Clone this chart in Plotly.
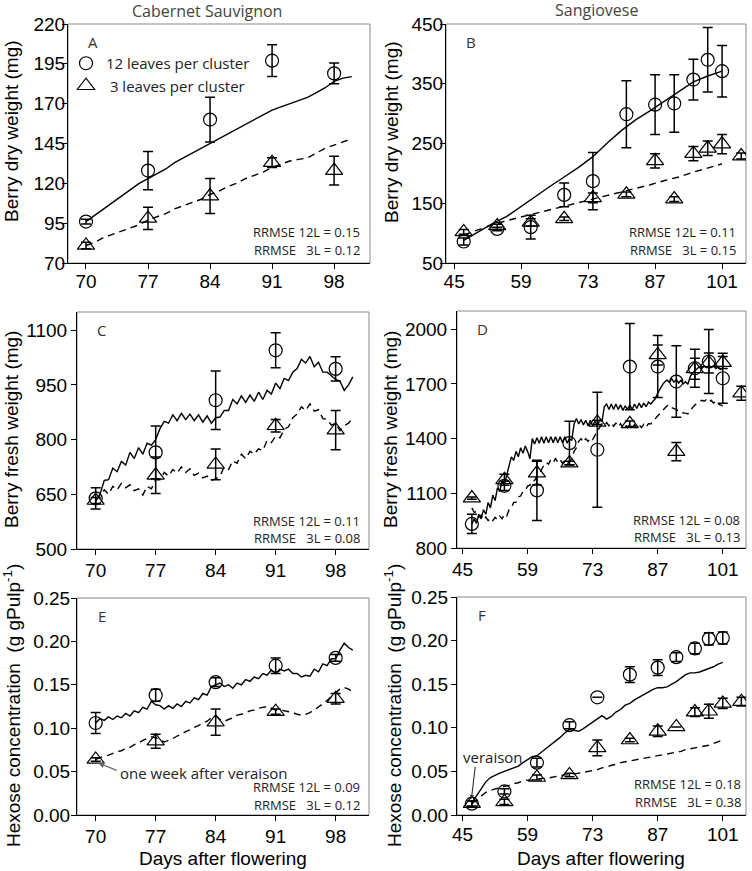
import plotly.graph_objects as go

W, H = 752, 871

# ---------------- data ----------------
cs_days = [70, 77, 84, 91, 98]
sg_days_12 = [47, 54, 61, 68, 74, 81, 87, 91, 95, 98, 101]
sg_days_3 = [47, 54, 61, 68, 74, 81, 87, 91, 95, 98, 101, 105]

# Panel A - Cabernet Sauvignon berry dry weight (mg)
A_obs_12 = [96, 128, 160, 197, 189]
A_err_12 = [1.5, 12, 14, 10, 6.5]
A_obs_3 = [81, 98, 112, 133, 128]
A_err_3 = [2, 7, 11, 3, 9]
A_sim_days = list(range(70, 101))
A_sim_12 = [96, 100, 104, 108, 112, 116, 120, 123, 126, 129, 133, 136, 139, 142, 145, 148,
            151, 154, 157, 160, 163, 166, 168, 170, 172, 174, 177, 180, 184, 186, 187]
A_sim_3 = [81, 83, 86, 88, 90, 92, 94, 97, 99, 101, 104, 106, 108, 110, 113, 115,
           118, 120, 123, 125, 127, 130, 132, 134, 135, 136, 139, 142, 144, 146, 148]

# Panel B - Sangiovese berry dry weight (mg)
B_obs_12 = [86, 107, 110, 164, 187, 299, 315, 317, 357, 390, 371]
B_err_12 = [6, 3, 20, 20, 48, 56, 50, 48, 34, 54, 43]
B_obs_3 = [102, 112, 118, 124, 159, 165, 221, 157, 233, 242, 249, 229]
B_err_3 = [4, 3, 6, 3, 8, 4, 12, 4, 12, 12, 16, 5]
B_sim_days = [47, 50, 53, 56, 59, 62, 65, 68, 71, 74, 77, 80, 83, 86, 89, 92, 95, 98, 101]
B_sim_12 = [88, 102, 116, 128, 145, 162, 178, 194, 210, 228, 251, 272, 290, 305, 321, 337, 353, 363, 371]
B_sim_3 = [97, 106, 114, 121, 127, 132, 139, 145, 150, 156, 163, 168, 174, 181, 188, 194, 202, 209, 216]

# Panel C - Cabernet Sauvignon berry fresh weight (mg), simulated every half day 70..100
C_obs_12 = [639, 765, 908, 1045, 994]
C_err_12 = [29, 72, 80, 48, 33]
C_obs_3 = [633, 702, 732, 838, 826]
C_err_3 = [8, 50, 42, 17, 54]
C_sim_12 = [632, 650, 688, 690, 722, 712, 740, 730, 765, 748,
            778, 760, 790, 785, 800, 830, 850, 845, 868, 852,
            872, 855, 870, 852, 868, 848, 865, 845, 860, 862,
            880, 880, 910, 898, 920, 902, 922, 905, 930, 910,
            935, 925, 955, 940, 968, 962, 985, 995, 1020, 1010,
            1028, 1000, 1012, 985, 985, 975, 965, 960, 935, 950,
            972]
C_sim_3 = [632, 648, 662, 650, 672, 662, 680, 668, 676, 660,
           665, 648, 672, 665, 690, 690, 710, 700, 718, 708,
           725, 710, 720, 702, 708, 695, 700, 688, 692, 700,
           725, 718, 742, 735, 760, 748, 768, 760, 775, 770,
           798, 792, 810, 805, 828, 835, 860, 870, 890, 880,
           898, 878, 882, 858, 855, 840, 845, 825, 838, 845,
           860]

# Panel D - Sangiovese berry fresh weight (mg), simulated every half day 47..101
D_obs_12 = [932, 1141, 1116, 1375, 1339, 1795, 1795, 1713, 1786, 1823, 1731]
D_err_12 = [53, 25, 165, 120, 315, 237, 170, 196, 104, 176, 137]
D_obs_3 = [1074, 1174, 1211, 1266, 1489, 1481, 1859, 1329, 1783, 1815, 1817, 1649]
D_err_3 = [6, 30, 65, 10, 12, 15, 55, 50, 58, 55, 33, 38]
D_sim_12 = [930, 960, 935, 985, 960, 1010, 985, 1050, 1020, 1090,
            1060, 1130, 1110, 1170, 1150, 1200, 1250, 1300, 1280, 1330,
            1300, 1350, 1320, 1360, 1330, 1290, 1400, 1370, 1405, 1375,
            1410, 1375, 1410, 1378, 1410, 1378, 1410, 1378, 1410, 1378,
            1410, 1375, 1400, 1390, 1480, 1510, 1480, 1505, 1475, 1500,
            1470, 1500, 1470, 1495, 1470, 1500, 1495, 1575, 1590, 1560,
            1590, 1560, 1590, 1560, 1585, 1555, 1580, 1560, 1585, 1560,
            1590, 1565, 1595, 1570, 1595, 1575, 1600, 1590, 1605, 1620,
            1650, 1675, 1695, 1710, 1722, 1708, 1728, 1710, 1725, 1705,
            1720, 1700, 1712, 1698, 1740, 1760, 1770, 1785, 1795, 1785,
            1800, 1790, 1800, 1790, 1800, 1785, 1795, 1780, 1785]
D_sim_3 = [1020, 995, 1000, 970, 980, 955, 970, 950, 965, 950,
           968, 955, 975, 960, 985, 975, 1010, 1020, 1050, 1050,
           1080, 1085, 1110, 1115, 1140, 1145, 1170, 1170, 1195, 1200,
           1230, 1255, 1270, 1260, 1285, 1270, 1290, 1270, 1285, 1265,
           1280, 1260, 1275, 1290, 1330, 1350, 1385, 1400, 1380, 1400,
           1385, 1405, 1395, 1420, 1440, 1460, 1480, 1470, 1488, 1470,
           1488, 1468, 1485, 1465, 1482, 1462, 1480, 1460, 1478, 1458,
           1476, 1458, 1476, 1460, 1478, 1462, 1482, 1480, 1500, 1510,
           1525, 1540, 1555, 1570, 1580, 1585, 1570, 1565, 1560, 1550,
           1550, 1540, 1540, 1535, 1555, 1570, 1585, 1595, 1600, 1610,
           1605, 1615, 1600, 1610, 1595, 1605, 1590, 1585, 1580]

# Panel E - Cabernet Sauvignon hexose concentration, simulated every half day 70..100
E_obs_12 = [0.106, 0.138, 0.153, 0.172, 0.181]
E_err_12 = [0.012, 0.007, 0.005, 0.009, 0.004]
E_obs_3 = [0.064, 0.085, 0.107, 0.119, 0.134]
E_err_3 = [0.002, 0.008, 0.015, 0.003, 0.006]
E_sim_12 = [0.106, 0.111, 0.109, 0.113, 0.110, 0.114, 0.112, 0.117, 0.114, 0.120,
            0.118, 0.124, 0.122, 0.131, 0.127, 0.126, 0.122, 0.126, 0.123, 0.128,
            0.125, 0.131, 0.129, 0.135, 0.133, 0.140, 0.138, 0.148, 0.150, 0.152,
            0.148, 0.150, 0.146, 0.152, 0.150, 0.156, 0.154, 0.159, 0.157, 0.163,
            0.161, 0.167, 0.163, 0.168, 0.166, 0.168, 0.163, 0.163, 0.159, 0.161,
            0.160, 0.168, 0.165, 0.174, 0.172, 0.180, 0.180, 0.190, 0.198, 0.193,
            0.190]
E_sim_3 = [0.064, 0.066, 0.068, 0.069, 0.071, 0.073, 0.074, 0.077, 0.078, 0.081,
           0.083, 0.086, 0.088, 0.090, 0.089, 0.086, 0.084, 0.086, 0.088, 0.091,
           0.093, 0.096, 0.098, 0.101, 0.103, 0.106, 0.108, 0.112, 0.114, 0.110,
           0.108, 0.110, 0.112, 0.115, 0.116, 0.118, 0.120, 0.121, 0.123, 0.124,
           0.125, 0.123, 0.121, 0.121, 0.120, 0.119, 0.118, 0.116, 0.115, 0.116,
           0.118, 0.121, 0.124, 0.128, 0.132, 0.137, 0.141, 0.145, 0.147, 0.145,
           0.142]

# Panel F - Sangiovese hexose concentration, simulated daily 47..101
F_obs_12 = [0.013, 0.027, 0.060, 0.103, 0.135, 0.161, 0.169, 0.181, 0.191, 0.202, 0.203]
F_err_12 = [0.003, 0.003, 0.005, 0.004, 0.0, 0.009, 0.009, 0.005, 0.006, 0.007, 0.007]
F_obs_3 = [0.013, 0.015, 0.043, 0.046, 0.077, 0.086, 0.096, 0.101, 0.118, 0.119, 0.128, 0.130]
F_err_3 = [0.003, 0.003, 0.003, 0.002, 0.009, 0.002, 0.006, 0.0, 0.005, 0.008, 0.006, 0.005]
F_sim_days = list(range(47, 102))
F_sim_12 = [0.014, 0.022, 0.031, 0.038, 0.043, 0.046, 0.048, 0.050, 0.052, 0.054,
            0.056, 0.060, 0.064, 0.067, 0.068, 0.072, 0.076, 0.080, 0.085, 0.089,
            0.094, 0.098, 0.097, 0.096, 0.099, 0.103, 0.107, 0.111, 0.114, 0.110,
            0.113, 0.118, 0.121, 0.126, 0.128, 0.132, 0.135, 0.138, 0.141, 0.144,
            0.146, 0.146, 0.147, 0.150, 0.153, 0.157, 0.161, 0.163, 0.163, 0.164,
            0.166, 0.168, 0.170, 0.173, 0.175]
F_sim_3 = [0.013, 0.017, 0.022, 0.026, 0.028, 0.030, 0.031, 0.033, 0.034, 0.036,
           0.037, 0.039, 0.040, 0.040, 0.041, 0.042, 0.042, 0.043, 0.044, 0.045,
           0.046, 0.046, 0.047, 0.048, 0.049, 0.050, 0.051, 0.052, 0.054, 0.055,
           0.057, 0.058, 0.060, 0.061, 0.062, 0.063, 0.064, 0.065, 0.066, 0.067,
           0.068, 0.069, 0.070, 0.071, 0.072, 0.073, 0.075, 0.076, 0.077, 0.078,
           0.079, 0.080, 0.082, 0.084, 0.086]

half_cs = [70 + 0.5 * i for i in range(len(C_sim_12))]
half_sg = [47 + 0.5 * i for i in range(len(D_sim_12))]

rrmse = {
    "A": ("0.15", "0.12"), "B": ("0.11", "0.15"), "C": ("0.11", "0.08"),
    "D": ("0.08", "0.13"), "E": ("0.09", "0.12"), "F": ("0.18", "0.38"),
}
cs_ticks = [70, 77, 84, 91, 98]
sg_ticks = [45, 59, 73, 87, 101]

# ---------------- layout geometry (pixels) ----------------
panels = {
    "A": ("", 68, 370, 24, 263, [67.97, 102.05], [70, 220], cs_ticks, [70, 95, 120, 145, 170, 195, 220]),
    "B": ("2", 446, 746, 24, 263, [43.3, 106.0], [50, 450], sg_ticks, [50, 150, 250, 350, 450]),
    "C": ("3", 77, 369, 312, 549, [67.82, 101.89], [500, 1150], cs_ticks, [500, 650, 800, 950, 1100]),
    "D": ("4", 457, 746, 311, 548, [43.8, 106.0], [800, 2100], sg_ticks, [800, 1100, 1400, 1700, 2000]),
    "E": ("5", 77, 369, 598, 815, [67.82, 101.89], [0, 0.25], cs_ticks, [0, 0.05, 0.10, 0.15, 0.20, 0.25]),
    "F": ("6", 457, 746, 597, 815, [43.8, 106.0], [0, 0.25], sg_ticks, [0, 0.05, 0.10, 0.15, 0.20, 0.25]),
}
# RRMSE text placement: (right inset, first-line offset from bottom, second-line offset)
rr_pos = {"A": (8, 31, 13), "B": (8, 31, 13), "C": (7, 28, 11),
          "D": (4, 28, 11), "E": (7, 28, 10), "F": (3, 31, 13)}
# tick label standoffs (x, y)
lab_off = {"A": (-4, -7), "B": (-4, -7), "C": (-1, 0), "D": (-1, 0), "E": (-1, -3), "F": (-3, -1)}

ARIAL = "Arial, Liberation Sans, sans-serif"
SANS = "Open Sans, Noto Sans, sans-serif"
DASH = "7px,5px"

fig = go.Figure()


def px(x):
    return x / W


def py(y):
    return 1 - y / H


def add_lines(key, xs, y12, y3):
    s = panels[key][0]
    fig.add_trace(go.Scatter(x=xs, y=y12, mode="lines", line=dict(color="black", width=1.4),
                             xaxis="x" + s, yaxis="y" + s, showlegend=False, hoverinfo="skip"))
    fig.add_trace(go.Scatter(x=xs, y=y3, mode="lines", line=dict(color="black", width=1.4, dash=DASH),
                             xaxis="x" + s, yaxis="y" + s, showlegend=False, hoverinfo="skip"))


def add_obs(key, d12, o12, e12, d3, o3, e3, legend=False):
    s = panels[key][0]
    eb = dict(type="data", thickness=1.5, width=5, color="black")
    fig.add_trace(go.Scatter(x=d3, y=o3, mode="markers", name="\u00a03 leaves per cluster",
                             marker=dict(symbol="triangle-up-open", size=15, color="black",
                                         line=dict(width=1.2, color="black")),
                             error_y=dict(array=e3, **eb), xaxis="x" + s, yaxis="y" + s,
                             showlegend=legend, legendrank=2))
    fig.add_trace(go.Scatter(x=d12, y=o12, mode="markers", name="12 leaves per cluster",
                             marker=dict(symbol="circle-open", size=13, color="black",
                                         line=dict(width=1.2, color="black")),
                             error_y=dict(array=e12, **eb), xaxis="x" + s, yaxis="y" + s,
                             showlegend=legend, legendrank=1))


add_lines("A", A_sim_days, A_sim_12, A_sim_3)
add_obs("A", cs_days, A_obs_12, A_err_12, cs_days, A_obs_3, A_err_3, legend=True)
add_lines("B", B_sim_days, B_sim_12, B_sim_3)
add_obs("B", sg_days_12, B_obs_12, B_err_12, sg_days_3, B_obs_3, B_err_3)
add_lines("C", half_cs, C_sim_12, C_sim_3)
add_obs("C", cs_days, C_obs_12, C_err_12, cs_days, C_obs_3, C_err_3)
add_lines("D", half_sg, D_sim_12, D_sim_3)
add_obs("D", sg_days_12, D_obs_12, D_err_12, sg_days_3, D_obs_3, D_err_3)
add_lines("E", half_cs, E_sim_12, E_sim_3)
add_obs("E", cs_days, E_obs_12, E_err_12, cs_days, E_obs_3, E_err_3)
add_lines("F", F_sim_days, F_sim_12, F_sim_3)
add_obs("F", sg_days_12, F_obs_12, F_err_12, sg_days_3, F_obs_3, F_err_3)

layout = dict(
    width=W, height=H, autosize=False,
    margin=dict(l=0, r=0, t=0, b=0, pad=0, autoexpand=False),
    paper_bgcolor="white", plot_bgcolor="white",
    showlegend=True,
    legend=dict(x=px(66), y=py(47), xanchor="left", yanchor="top",
                font=dict(family=SANS, size=15, color="#222"),
                bgcolor="rgba(0,0,0,0)", tracegroupgap=0, itemwidth=30),
)
shapes = []
annotations = []
for key, (s, l, r, t, b, xr, yr, xt, yt) in panels.items():
    ax_common = dict(showline=True, linecolor="black", linewidth=1, mirror=False,
                     ticks="outside", ticklen=5, tickwidth=1, tickcolor="black",
                     showgrid=False, zeroline=False, automargin=False,
                     tickfont=dict(family=ARIAL, size=19, color="black"))
    xo, yo = lab_off[key]
    layout["xaxis" + s] = dict(domain=[px(l), px(r)], range=xr, tickvals=xt,
                               anchor="y" + s, ticklabelstandoff=xo, **ax_common)
    yfmt = ".2f" if key in ("E", "F") else ""
    layout["yaxis" + s] = dict(domain=[py(b), py(t)], range=yr, tickvals=yt,
                               tickformat=yfmt, anchor="x" + s, ticklabelstandoff=yo, **ax_common)
    shapes.append(dict(type="rect", xref="x" + s + " domain", yref="y" + s + " domain",
                       x0=0, x1=1, y0=0, y1=1, line=dict(color="#8a8a8a", width=1), layer="below"))
    annotations.append(dict(text=key, xref="paper", yref="paper", x=px(l + 25), y=py(t + 18),
                            xanchor="center", yanchor="middle", showarrow=False,
                            font=dict(family=SANS, size=15, color="#333")))
    r12, r3 = rrmse[key]
    ri, o1, o2 = rr_pos[key]
    annotations.append(dict(text="RRMSE 12L = " + r12, xref="paper", yref="paper",
                            x=px(r - ri), y=py(b - o1), xanchor="right", yanchor="middle",
                            showarrow=False, font=dict(family=SANS, size=13, color="#222")))
    annotations.append(dict(text="RRMSE\u00a0\u00a0\u00a03L = " + r3, xref="paper", yref="paper",
                            x=px(r - ri), y=py(b - o2), xanchor="right", yanchor="middle",
                            showarrow=False, font=dict(family=SANS, size=13, color="#222")))

ytitles = [
    ("Berry dry weight (mg)", 12, 131), ("Berry dry weight (mg)", 392, 132),
    ("Berry fresh weight (mg)", 12, 430), ("Berry fresh weight (mg)", 391, 430),
    ("Hexose concentration\u00a0 (g gPulp<sup>-1</sup>)", 12, 706),
    ("Hexose concentration\u00a0 (g gPulp<sup>-1</sup>)", 393, 706),
]
for txt, x, y in ytitles:
    annotations.append(dict(text=txt, xref="paper", yref="paper", x=px(x), y=py(y),
                            xanchor="center", yanchor="middle", textangle=-90, showarrow=False,
                            font=dict(family=ARIAL, size=19, color="black")))
for x in (223, 601):
    annotations.append(dict(text="Days after flowering", xref="paper", yref="paper", x=px(x), y=py(858),
                            xanchor="center", yanchor="middle", showarrow=False,
                            font=dict(family=ARIAL, size=19, color="black")))
annotations.append(dict(text="Cabernet Sauvignon", xref="paper", yref="paper", x=px(207), y=py(11),
                        xanchor="center", yanchor="middle", showarrow=False,
                        font=dict(family=SANS, size=16, color="#444")))
annotations.append(dict(text="Sangiovese", xref="paper", yref="paper", x=px(596), y=py(10),
                        xanchor="center", yanchor="middle", showarrow=False,
                        font=dict(family=SANS, size=16, color="#444")))
annotations.append(dict(text="", x=70.3, y=0.060, xref="x5", yref="y5", ax=20, ay=8,
                        showarrow=True, arrowhead=2, arrowsize=1, arrowwidth=1.2, arrowcolor="#666"))
annotations.append(dict(text="one week after veraison", xref="paper", yref="paper", x=px(118), y=py(773),
                        xanchor="left", yanchor="middle", showarrow=False,
                        font=dict(family=SANS, size=15, color="#222")))
annotations.append(dict(text="", x=46.9, y=0.018, xref="x6", yref="y6", ax=4, ay=-34,
                        showarrow=True, arrowhead=2, arrowsize=0.8, arrowwidth=1.1, arrowcolor="#333"))
annotations.append(dict(text="veraison", xref="paper", yref="paper", x=px(493), y=py(757),
                        xanchor="center", yanchor="middle", showarrow=False,
                        font=dict(family=SANS, size=15, color="#222")))

layout["shapes"] = shapes
layout["annotations"] = annotations
fig.update_layout(**layout)
fig.write_html("out.html", config={"displayModeBar": False},
               post_script="document.body.style.margin='0px';")
